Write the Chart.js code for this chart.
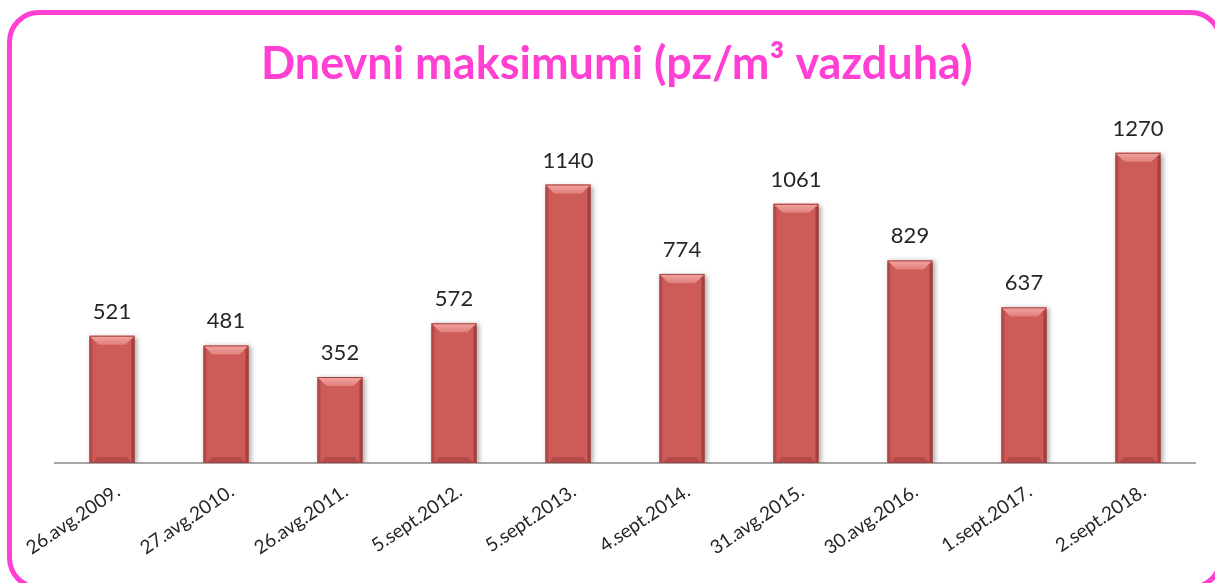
<!DOCTYPE html>
<html>
<head>
<meta charset="utf-8">
<script src="https://cdn.jsdelivr.net/npm/chart.js@4.4.1/dist/chart.umd.min.js"></script>
<style>
  html, body { margin: 0; padding: 0; background: #fff; overflow: hidden; }
  #wrap { position: relative; width: 1215px; height: 583px; overflow: hidden; }
  #frame {
    position: absolute; left: 7px; top: 10px; width: 1216px; height: 580px;
    box-sizing: border-box; border: 5px solid #ff40d2; border-radius: 32px;
  }
  canvas { position: absolute; left: 0; top: 0; }
</style>
</head>
<body>
<div id="wrap">
  <div id="frame"></div>
  <canvas id="dailyChart" width="1215" height="583"></canvas>
</div>
<script>
// dates of the daily maximum
const dates = ['26.avg.2009.', '27.avg.2010.', '26.avg.2011.', '5.sept.2012.', '5.sept.2013.',
               '4.sept.2014.', '31.avg.2015.', '30.avg.2016.', '1.sept.2017.', '2.sept.2018.'];
// pollen grains per m3 of air
const maxima = [521, 481, 352, 572, 1140, 774, 1061, 829, 637, 1270];

const barFill = '#cd5b58';

// Light bevel on top, darker edges, a bit like the Excel style
const bevelPlugin = {
    id: 'bevel',
    beforeDatasetDraw(chart) {
        const ctx = chart.ctx;
        ctx.save();
        ctx.shadowColor = 'rgba(0,0,0,0.35)';
        ctx.shadowBlur = 5;
        ctx.shadowOffsetX = 2;
        ctx.shadowOffsetY = 1;
    },
    afterDatasetDraw(chart) {
        chart.ctx.restore();
        const ctx = chart.ctx;
        const meta = chart.getDatasetMeta(0);
        meta.data.forEach(bar => {
            const l = bar.x - bar.width / 2, r = bar.x + bar.width / 2;
            const t = bar.y, b = bar.base;
            const bv = 9, sd = 3;
            ctx.save();
            // top bevel
            const g = ctx.createLinearGradient(0, t, 0, t + bv);
            g.addColorStop(0, '#f4a5a1');
            g.addColorStop(1, '#e0807c');
            ctx.fillStyle = g;
            ctx.beginPath();
            ctx.moveTo(l, t); ctx.lineTo(r, t); ctx.lineTo(r - bv, t + bv); ctx.lineTo(l + bv, t + bv);
            ctx.closePath(); ctx.fill();
            // left edge
            ctx.fillStyle = 'rgba(140,40,38,0.3)';
            ctx.fillRect(l, t + sd, sd, b - t - sd);
            // right edge
            ctx.fillStyle = 'rgba(110,30,28,0.45)';
            ctx.fillRect(r - sd, t + sd, sd, b - t - sd);
            // bottom bevel
            ctx.fillStyle = 'rgba(120,35,33,0.3)';
            ctx.beginPath();
            ctx.moveTo(l + sd, b); ctx.lineTo(r - sd, b); ctx.lineTo(r - sd - 5, b - 6); ctx.lineTo(l + sd + 5, b - 6);
            ctx.closePath(); ctx.fill();
            // outline
            ctx.strokeStyle = '#a4423f';
            ctx.lineWidth = 1;
            ctx.strokeRect(l + 0.5, t + 0.5, r - l - 1, b - t - 1);
            ctx.restore();
        });
    }
};

// value above every bar
const valueLabels = {
    id: 'valueLabels',
    afterDatasetsDraw(chart) {
        const ctx = chart.ctx;
        const meta = chart.getDatasetMeta(0);
        ctx.save();
        ctx.font = '22px Lato';
        ctx.fillStyle = '#262626';
        ctx.textAlign = 'center';
        ctx.textBaseline = 'alphabetic';
        meta.data.forEach((bar, i) => {
            ctx.fillText(String(maxima[i]), bar.x, bar.y - 17);
        });
        ctx.restore();
    }
};

const ctx = document.getElementById('dailyChart').getContext('2d');
new Chart(ctx, {
    type: 'bar',
    data: {
        labels: dates,
        datasets: [{
            data: maxima,
            backgroundColor: barFill,
            borderWidth: 0,
            categoryPercentage: 1,
            barPercentage: 0.395
        }]
    },
    options: {
        responsive: false,
        animation: false,
        devicePixelRatio: 1,
        layout: { padding: { left: 55, right: 20, top: 19, bottom: 0 } },
        plugins: {
            legend: { display: false },
            tooltip: { enabled: false },
            title: {
                display: true,
                // trailing spaces nudge the centred title a little to the left
                text: 'Dnevni maksimumi (pz/m³ vazduha) \u2009',
                color: '#ff40d2',
                font: { family: 'Lato', size: 45, weight: 'bold' },
                padding: { top: 18, bottom: 30 }
            }
        },
        scales: {
            x: {
                grid: { display: false },
                border: { display: true, color: '#a6a6a6', width: 2 },
                ticks: {
                    color: '#262626',
                    font: { family: 'Lato', size: 19 },
                    minRotation: 34,
                    maxRotation: 34,
                    padding: 9,
                    labelOffset: 6
                },
                afterFit(scale) { scale.height = 120; }
            },
            y: {
                display: false,
                min: 0,
                max: 1400
            }
        }
    },
    plugins: [bevelPlugin, valueLabels]
});
</script>
</body>
</html>
